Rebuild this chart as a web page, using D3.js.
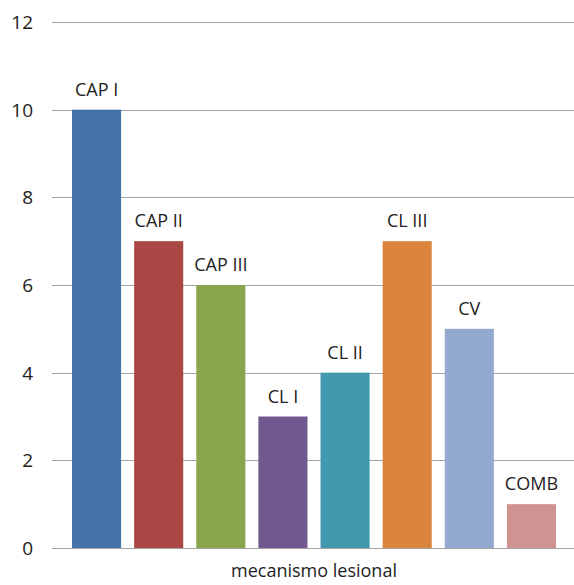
<!DOCTYPE html>
<html>
<head>
	<title>mecanismo lesional</title>
	<script src="https://d3js.org/d3.v7.min.js"></script>
	<style>
		body { margin: 0; background: #fff; }
		text { font-family: "Open Sans", sans-serif; fill: #222; }
	</style>
</head>
<body>
<script>
var categories = ["CAP I", "CAP II", "CAP III", "CL I", "CL II", "CL III", "CV", "COMB"];
var values = [10, 7, 6, 3, 4, 7, 5, 1];
var colors = ["#4572a7", "#aa4643", "#89a54e", "#71588f", "#4198af", "#db843d", "#93a9cf", "#d19392"];
var yTicks = [0, 2, 4, 6, 8, 10, 12];
var xTitle = "mecanismo lesional";

var width = 574, height = 585;

var svg = d3.select("body")
	.append("svg")
	.attr("width", width)
	.attr("height", height);

var y = d3.scaleLinear().domain([0, 12]).range([548, 22]);
var x = d3.scaleBand().domain(categories).range([65.5, 562.5])
	.paddingInner(0.21).paddingOuter(0.105);

// grid lines
svg.selectAll("line.grid").data(yTicks)
	.enter().append("line")
	.attr("class", "grid")
	.attr("x1", 52).attr("x2", width)
	.attr("y1", function(d){ return Math.round(y(d)) + 0.5; })
	.attr("y2", function(d){ return Math.round(y(d)) + 0.5; })
	.attr("stroke", "#a3a3a3")
	.attr("stroke-width", 1.2);

// tick labels
svg.selectAll("text.tick").data(yTicks)
	.enter().append("text")
	.attr("class", "tick")
	.attr("x", 33)
	.attr("y", function(d){ return y(d); })
	.attr("dy", "0.36em")
	.attr("text-anchor", "end")
	.style("font-size", "19px")
	.text(function(d){ return d; });

// bars
svg.selectAll("rect").data(values)
	.enter().append("rect")
	.attr("x", function(d, i){ return x(categories[i]); })
	.attr("y", function(d){ return y(d); })
	.attr("width", x.bandwidth())
	.attr("height", function(d){ return y(0) - y(d); })
	.attr("fill", function(d, i){ return colors[i]; });

// labels above bars
svg.selectAll("text.lbl").data(values)
	.enter().append("text")
	.attr("class", "lbl")
	.attr("x", function(d, i){ return x(categories[i]) + x.bandwidth() / 2; })
	.attr("y", function(d){ return y(d) - 14; })
	.attr("text-anchor", "middle")
	.style("font-size", "18px")
	.text(function(d, i){ return categories[i]; });

svg.append("text")
	.attr("x", 314)
	.attr("y", 577)
	.attr("text-anchor", "middle")
	.style("font-size", "18px")
	.text(xTitle);
</script>
</body>
</html>
